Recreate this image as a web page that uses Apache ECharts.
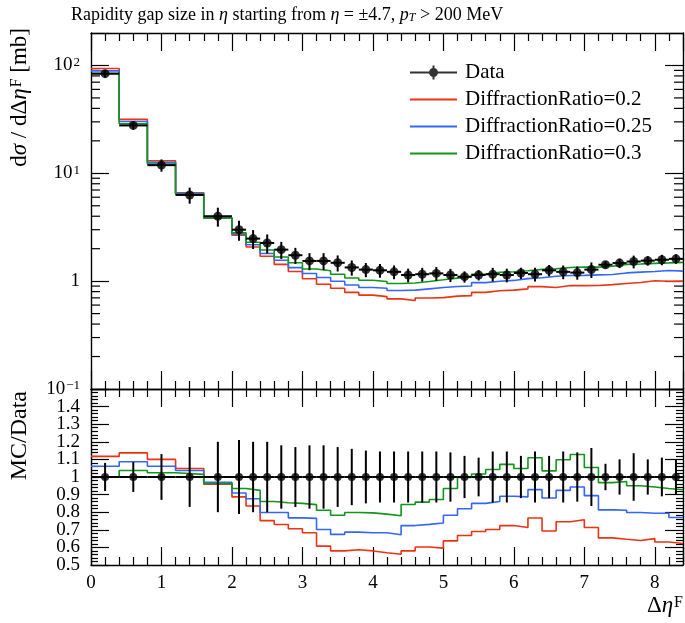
<!DOCTYPE html>
<html>
<head>
<meta charset="utf-8">
<script src="https://cdn.jsdelivr.net/npm/echarts@6/dist/echarts.min.js"></script>
<style>
  html, body { margin: 0; padding: 0; background: #fff; }
  #chart { width: 685px; height: 623px; }
</style>
</head>
<body>
<div id="chart"></div>
<script>
// bin edges of the rapidity gap histogram (5 wide bins, then 0.2 steps)
const binEdges = [0, 0.4, 0.8, 1.2, 1.6, 2.0, 2.2, 2.4, 2.6, 2.8, 3.0, 3.2, 3.4, 3.6, 3.8,
  4.0, 4.2, 4.4, 4.6, 4.8, 5.0, 5.2, 5.4, 5.6, 5.8, 6.0, 6.2, 6.4, 6.6, 6.8, 7.0,
  7.2, 7.4, 7.6, 7.8, 8.0, 8.2, 8.4];

// measured dsigma/d(delta eta) [mb]
const dataValues = [84, 27.8, 11.9, 6.3, 4.0, 3.0, 2.48, 2.26, 1.96, 1.74, 1.54, 1.54, 1.48, 1.34, 1.28,
  1.26, 1.22, 1.14, 1.16, 1.18, 1.14, 1.10, 1.14, 1.16, 1.14, 1.19, 1.16, 1.26, 1.22, 1.20, 1.28,
  1.42, 1.47, 1.52, 1.55, 1.58, 1.61];

// relative total uncertainty of the data
const dataErrors = [0.08, 0.085, 0.13, 0.17, 0.2, 0.21, 0.2, 0.2, 0.18, 0.17, 0.18, 0.18, 0.17, 0.16, 0.15,
  0.145, 0.145, 0.145, 0.145, 0.145, 0.14, 0.12, 0.11, 0.145, 0.145, 0.12, 0.145, 0.12, 0.145, 0.14, 0.165,
  0.075, 0.1, 0.135, 0.1, 0.11, 0.1];

// MC / Data ratios
const ratioDR02 = [1.117, 1.137, 1.10, 1.048, 0.959, 0.887, 0.835, 0.752, 0.73, 0.706, 0.683, 0.607, 0.58, 0.587, 0.58,
  0.57, 0.561, 0.58, 0.602, 0.596, 0.637, 0.668, 0.69, 0.702, 0.724, 0.713, 0.767, 0.693, 0.746, 0.757, 0.713,
  0.654, 0.646, 0.639, 0.65, 0.631, 0.622];
const ratioDR025 = [1.061, 1.087, 1.061, 1.037, 0.97, 0.909, 0.876, 0.798, 0.798, 0.768, 0.765, 0.702, 0.674, 0.687, 0.683,
  0.683, 0.672, 0.724, 0.731, 0.739, 0.783, 0.82, 0.85, 0.861, 0.891, 0.887, 0.928, 0.881, 0.924, 0.943, 0.894,
  0.813, 0.811, 0.798, 0.794, 0.794, 0.77];
const ratioDR03 = [1.0, 1.037, 1.024, 1.015, 0.963, 0.935, 0.924, 0.861, 0.854, 0.85, 0.843, 0.811, 0.783, 0.798, 0.796,
  0.789, 0.78, 0.844, 0.857, 0.872, 0.935, 0.998, 1.017, 1.043, 1.072, 1.048, 1.109, 1.035, 1.098, 1.128, 1.054,
  0.968, 0.974, 0.95, 0.943, 0.935, 0.928];

// minor ticks of the log axis
const logMinorTicks = [0.2, 0.3, 0.4, 0.5, 0.6, 0.7, 0.8, 0.9, 2, 3, 4, 5, 6, 7, 8, 9,
  20, 30, 40, 50, 60, 70, 80, 90];

const FONT = '"Liberation Serif", "DejaVu Serif", serif';
const LINE_ICON = 'path://M0,0 L47,0 L47,1.8 L0,1.8 Z';
const DATA_ICON = 'path://M0,6 L47,6 L47,8 L0,8 Z M22.5,0 L24.5,0 L24.5,14 L22.5,14 Z M19,7 A4.5,4.5 0 1 1 28,7 A4.5,4.5 0 1 1 19,7 Z';

const mcSets = [
  { name: 'DiffractionRatio=0.2', color: '#ee3311', ratio: ratioDR02 },
  { name: 'DiffractionRatio=0.25', color: '#3366ff', ratio: ratioDR025 },
  { name: 'DiffractionRatio=0.3', color: '#109618', ratio: ratioDR03 }
];

function stepData(values) {
  const pts = values.map((v, i) => [binEdges[i], v]);
  pts.push([binEdges[values.length], values[values.length - 1]]);
  return pts;
}

function mid(i) {
  return (binEdges[i] + binEdges[i + 1]) / 2;
}

function errorSeries(axisIndex, rows) {
  return {
    type: 'custom',
    name: 'err' + axisIndex,
    xAxisIndex: axisIndex,
    yAxisIndex: axisIndex,
    z: 5,
    silent: true,
    encode: { x: [0, 1, 2], y: [3, 4, 5] },
    data: rows,
    renderItem(params, api) {
      const a = api.coord([api.value(0), api.value(3)]);
      const b = api.coord([api.value(2), api.value(3)]);
      const t = api.coord([api.value(1), api.value(5)]);
      const u = api.coord([api.value(1), api.value(4)]);
      return {
        type: 'group',
        children: [
          { type: 'line', shape: { x1: a[0], y1: a[1], x2: b[0], y2: b[1] }, style: { stroke: '#000', lineWidth: 2 } },
          { type: 'line', shape: { x1: t[0], y1: t[1], x2: u[0], y2: u[1] }, style: { stroke: '#000', lineWidth: 2 } }
        ]
      };
    }
  };
}

const frameLine = { show: true, onZero: false, lineStyle: { color: '#000', width: 1.4 } };
const tickLine = { color: '#000', width: 1.2 };
const labelFont = { fontFamily: FONT, fontSize: 19, color: '#000' };

function xAxisFor(gridIndex, position, showLabels) {
  return {
    type: 'value', gridIndex, position, min: 0, max: 8.4, interval: 1,
    axisLine: frameLine,
    axisTick: { show: true, inside: true, length: 18, lineStyle: tickLine },
    minorTick: { show: true, splitNumber: 5, length: 8, lineStyle: tickLine },
    splitLine: { show: false },
    axisLabel: showLabels
      ? Object.assign({ show: true, margin: 9, showMinLabel: true, formatter: v => (v > 8.2 ? '' : String(v)) }, labelFont)
      : { show: false }
  };
}

function logAxis(position, showLabels) {
  return {
    type: 'log', logBase: 10, gridIndex: 0, position, min: 0.1, max: 200,
    axisLine: frameLine,
    axisTick: { show: true, inside: true, length: 18, lineStyle: tickLine },
    splitLine: { show: false },
    axisLabel: showLabels
      ? Object.assign({
          show: true, margin: 11, showMinLabel: true,
          formatter: v => {
            const l = Math.log10(v);
            const e = Math.round(l);
            if (Math.abs(l - e) > 1e-6) return '';
            if (e === 0) return '1';
            return '10{sup|' + (e < 0 ? '\u2212' : '') + Math.abs(e) + '}';
          },
          rich: { sup: { fontFamily: FONT, fontSize: 13, color: '#000', verticalAlign: 'top', padding: [0, 0, 6, 1] } }
        }, labelFont)
      : { show: false }
  };
}

function ratioAxis(position, showLabels) {
  return {
    type: 'value', gridIndex: 1, position, min: 0.5, max: 1.5, interval: 0.1,
    axisLine: frameLine,
    axisTick: { show: true, inside: true, length: 18, lineStyle: tickLine },
    minorTick: { show: true, splitNumber: 5, length: 7, lineStyle: tickLine },
    splitLine: { show: false },
    axisLabel: showLabels
      ? Object.assign({
          show: true, margin: 11, showMinLabel: false, hideOverlap: false,
          formatter: v => (v > 1.45 ? '' : Math.abs(v - 1) < 1e-6 ? '1' : v.toFixed(1))
        }, labelFont)
      : { show: false }
  };
}

// label-only axis carrying the bottom "0.5" of the ratio panel
const ratioMinLabelAxis = {
  type: 'value', gridIndex: 1, position: 'left', min: 0.5, max: 1.5, interval: 0.1,
  axisLine: { show: false }, axisTick: { show: false }, splitLine: { show: false },
  axisLabel: Object.assign({
    show: true, margin: 11, showMinLabel: true,
    formatter: v => (Math.abs(v - 0.5) < 1e-6 ? '0.5' : '')
  }, labelFont)
};

const series = [];

mcSets.forEach(s => {
  series.push({
    type: 'line', name: s.name, xAxisIndex: 0, yAxisIndex: 0, step: 'end',
    symbol: 'none', color: s.color, lineStyle: { color: s.color, width: 1.6 },
    data: stepData(s.ratio.map((r, i) => r * dataValues[i]))
  });
  series.push({
    type: 'line', name: s.name, xAxisIndex: 1, yAxisIndex: 1, step: 'end',
    symbol: 'none', color: s.color, lineStyle: { color: s.color, width: 1.6 },
    data: stepData(s.ratio)
  });
});

series.push(errorSeries(0, dataValues.map((v, i) =>
  [binEdges[i], mid(i), binEdges[i + 1], v, v * (1 - dataErrors[i]), v * (1 + dataErrors[i])])));
series.push(errorSeries(1, dataValues.map((v, i) =>
  [binEdges[i], mid(i), binEdges[i + 1], 1, 1 - dataErrors[i], 1 + dataErrors[i]])));

series.push({
  type: 'scatter', name: 'Data', xAxisIndex: 0, yAxisIndex: 0, z: 6,
  symbol: 'circle', symbolSize: 9, itemStyle: { color: '#000' },
  data: dataValues.map((v, i) => [mid(i), v])
});
series.push({
  type: 'scatter', name: 'Data', xAxisIndex: 1, yAxisIndex: 1, z: 6,
  symbol: 'circle', symbolSize: 8, itemStyle: { color: '#000' },
  data: dataValues.map((v, i) => [mid(i), 1])
});

// minor ticks on both sides of the log axis
series.push({
  type: 'custom', name: 'logMinor', xAxisIndex: 0, yAxisIndex: 0, silent: true, z: 1,
  data: logMinorTicks.map(v => [0, v]),
  renderItem(params, api) {
    const y = api.coord([0, api.value(1)])[1];
    const cs = params.coordSys;
    return {
      type: 'group',
      children: [
        { type: 'line', shape: { x1: cs.x, y1: y, x2: cs.x + 9, y2: y }, style: { stroke: '#000', lineWidth: 1.2 } },
        { type: 'line', shape: { x1: cs.x + cs.width - 9, y1: y, x2: cs.x + cs.width, y2: y }, style: { stroke: '#000', lineWidth: 1.2 } }
      ]
    };
  }
});

const chart = echarts.init(document.getElementById('chart'));
chart.setOption({
  animation: false,
  backgroundColor: '#fff',
  title: {
    text: 'Rapidity gap size in {i|\u03b7} starting from {i|\u03b7} = \u00b14.7, {i|p}{sub|T} > 200 MeV',
    left: 66, top: 1,
    textStyle: {
      fontFamily: FONT, fontSize: 18, fontWeight: 'normal', color: '#000',
      rich: {
        i: { fontFamily: FONT, fontSize: 18, fontStyle: 'italic', color: '#000' },
        sub: { fontFamily: FONT, fontSize: 12, fontStyle: 'italic', color: '#000', verticalAlign: 'bottom' }
      }
    }
  },
  legend: {
    orient: 'vertical', left: 405, top: 57,
    itemWidth: 47, itemHeight: 14, itemGap: 6,
    textStyle: { fontFamily: FONT, fontSize: 21, color: '#000', lineHeight: 21, padding: [0, 0, 0, 3] },
    data: [
      { name: 'Data', icon: DATA_ICON },
      { name: 'DiffractionRatio=0.2', icon: LINE_ICON },
      { name: 'DiffractionRatio=0.25', icon: LINE_ICON },
      { name: 'DiffractionRatio=0.3', icon: LINE_ICON }
    ]
  },
  grid: [
    { left: 91, top: 33, width: 592, height: 356, outerBoundsMode: 'none' },
    { left: 91, top: 389, width: 592, height: 176, outerBoundsMode: 'none' }
  ],
  xAxis: [
    xAxisFor(0, 'bottom', false), xAxisFor(1, 'bottom', true),
    xAxisFor(0, 'top', false), xAxisFor(1, 'top', false)
  ],
  yAxis: [
    logAxis('left', true), ratioAxis('left', true),
    logAxis('right', false), ratioAxis('right', false),
    ratioMinLabelAxis
  ],
  series,
  graphic: [
    {
      type: 'text', x: 20, y: 28, rotation: Math.PI / 2,
      style: {
        text: 'd{i|\u03c3} / d\u0394{i|\u03b7}{sup|F} [mb]', align: 'right', verticalAlign: 'middle',
        fontFamily: FONT, fontSize: 23, fill: '#000',
        rich: {
          i: { fontFamily: FONT, fontSize: 23, fontStyle: 'italic', color: '#000' },
          sup: { fontFamily: FONT, fontSize: 16, color: '#000', verticalAlign: 'top', padding: [0, 0, 7, 1] }
        }
      }
    },
    {
      type: 'text', x: 20, y: 391, rotation: Math.PI / 2,
      style: { text: 'MC/Data', align: 'right', verticalAlign: 'middle', fontFamily: FONT, fontSize: 24, fill: '#000' }
    },
    {
      type: 'text', x: 683, y: 606,
      style: {
        text: '\u0394{i|\u03b7}{sup|F}', align: 'right', verticalAlign: 'middle',
        fontFamily: FONT, fontSize: 23, fill: '#000',
        rich: {
          i: { fontFamily: FONT, fontSize: 23, fontStyle: 'italic', color: '#000' },
          sup: { fontFamily: FONT, fontSize: 16, color: '#000', verticalAlign: 'top', padding: [0, 0, 7, 1] }
        }
      }
    }
  ]
});
</script>
</body>
</html>
